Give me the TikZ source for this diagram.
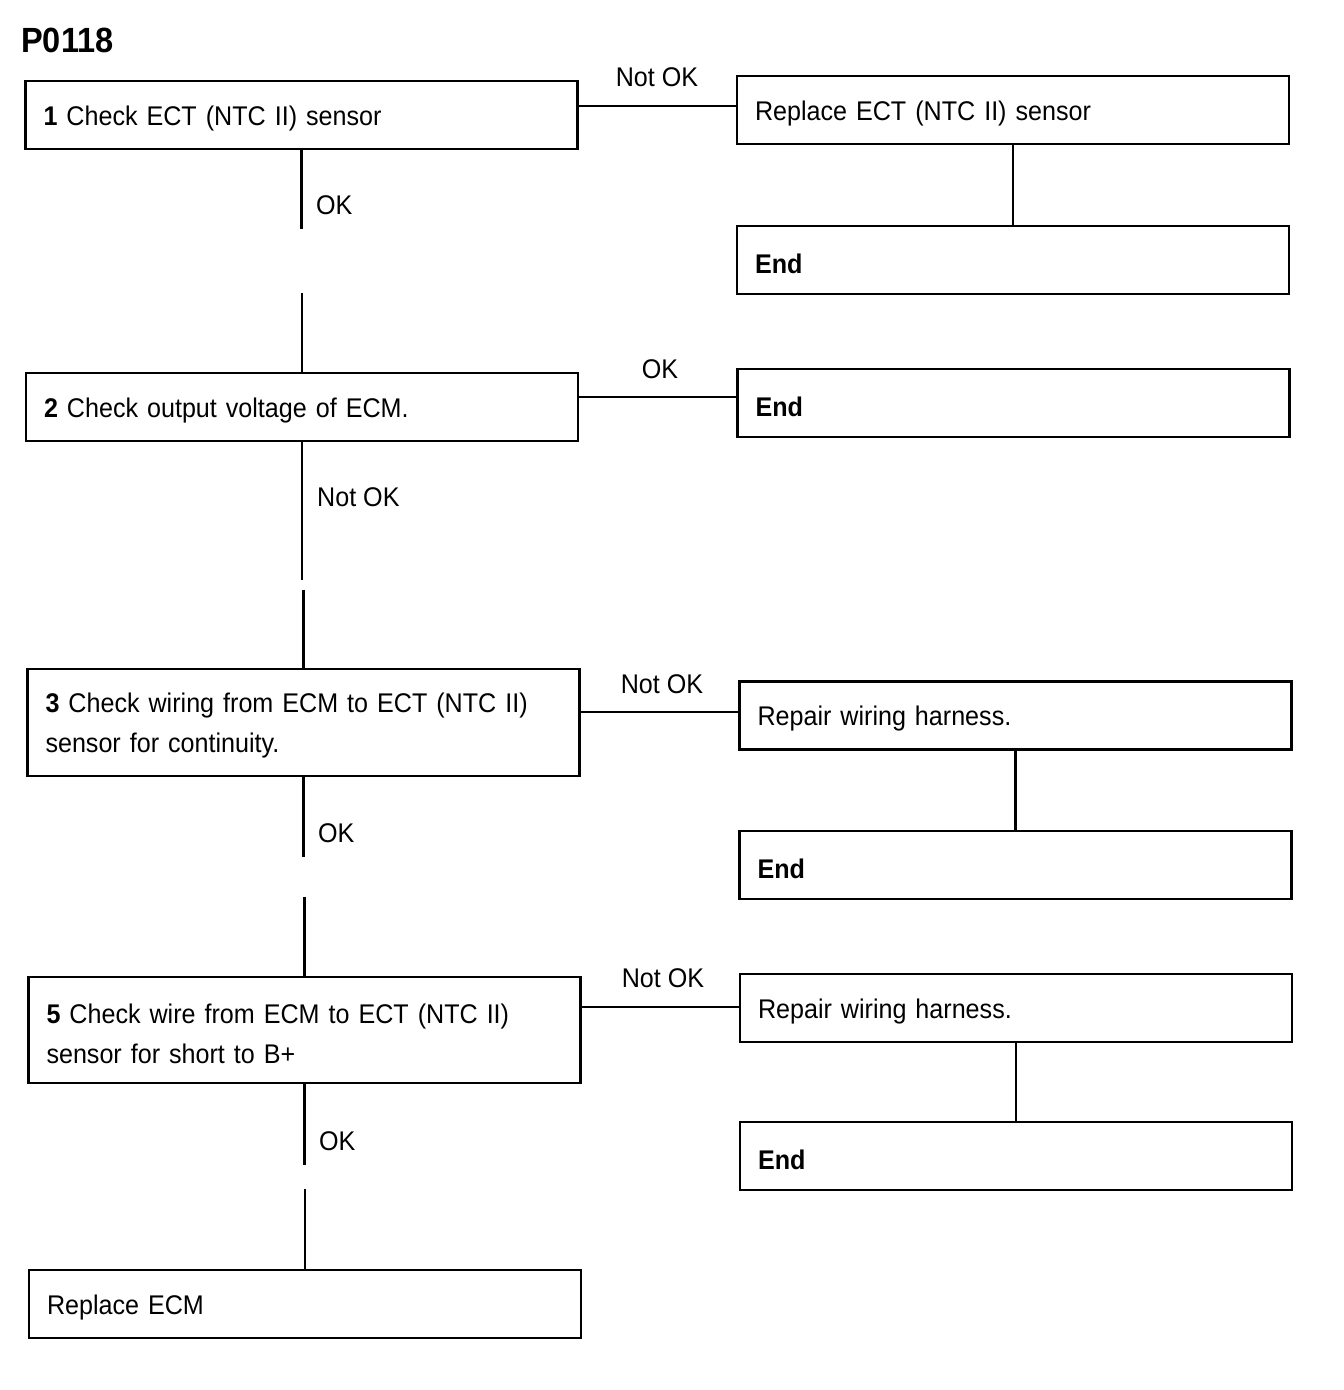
\documentclass[tikz,border=0pt]{standalone}
\usepackage{fontspec}
\setmainfont[FakeStretch=0.93]{Liberation Sans}
\begin{document}
\begin{tikzpicture}[x=1pt,y=-1pt,
  box/.style={draw, line width=2.8pt, minimum width=552pt, minimum height=68pt,
    text width=516pt, align=left, inner xsep=18pt, inner ysep=0pt,
    font=\fontsize{27}{40}\selectfont,
    execute at begin node={\rule{0pt}{26.5pt}}},
  conn/.style={line width=2.5pt},
  lbl/.style={inner sep=0pt, font=\fontsize{27}{32}\selectfont}]
\useasboundingbox (0,0) rectangle (1344,1390);
\node[anchor=west, inner sep=0pt, font=\bfseries\fontsize{35}{35}\selectfont] (title) at (21,40) {P0118};
% boxes
\node[box] (b1) at (301.5,115) {\textbf{1} Check ECT (NTC II) sensor};
\node[box] (r1) at (1013,110) {Replace ECT (NTC II) sensor};
\node[box] (e1) at (1013,260) {\textbf{End}};
\node[box] (b2) at (302,407) {\textbf{2} Check output voltage of ECM.};
\node[box] (e2) at (1013.5,403) {\textbf{End}};
\node[box, minimum height=107pt] (b3) at (303.5,722.5) {\textbf{3} Check wiring from ECM to ECT (NTC II)\\sensor for continuity.};
\node[box] (r3) at (1015.5,715.5) {Repair wiring harness.};
\node[box] (e3) at (1015.5,865) {\textbf{End}};
\node[box, minimum height=106pt] (b5) at (304.5,1030) {\textbf{5} Check wire from ECM to ECT (NTC II)\\sensor for short to B+};
\node[box] (r5) at (1016,1008) {Repair wiring harness.};
\node[box] (e5) at (1016,1156) {\textbf{End}};
\node[box] (b6) at (305,1304) {Replace ECM};
% gap coordinates for vertical connectors
\path (b1.south) ++(0,79) coordinate (g1a);
\path (b2.north) ++(0,-79) coordinate (g1b);
\path (b2.south) ++(0,138) coordinate (g2a);
\path (b3.north) ++(0,-78) coordinate (g2b);
\path (b3.south) ++(0,80) coordinate (g3a);
\path (b5.north) ++(0,-79) coordinate (g3b);
\path (b5.south) ++(0,81) coordinate (g5a);
\path (b6.north) ++(0,-80) coordinate (g5b);
\draw[conn] (b1.south) -- (g1a);
\draw[conn] (g1b) -- (b2.north);
\draw[conn] (b2.south) -- (g2a);
\draw[conn] (g2b) -- (b3.north);
\draw[conn] (b3.south) -- (g3a);
\draw[conn] (g3b) -- (b5.north);
\draw[conn] (b5.south) -- (g5a);
\draw[conn] (g5b) -- (b6.north);
% vertical labels
\node[lbl, anchor=west] (v1) at (316,205) {OK};
\node[lbl, anchor=west] (v2) at (317,497) {Not OK};
\node[lbl, anchor=west] (v3) at (318,833) {OK};
\node[lbl, anchor=west] (v5) at (319,1141) {OK};
% horizontal connectors
\coordinate (h1) at (0,106);
\coordinate (h2) at (0,397);
\coordinate (h3) at (0,712);
\coordinate (h5) at (0,1007);
\draw[conn] (b1.east |- h1) -- (r1.west |- h1);
\draw[conn] (b2.east |- h2) -- (e2.west |- h2);
\draw[conn] (b3.east |- h3) -- (r3.west |- h3);
\draw[conn] (b5.east |- h5) -- (r5.west |- h5);
\node[lbl] (n1) at (657,77) {Not OK};
\node[lbl] (n2) at (660,369) {OK};
\node[lbl] (n3) at (662,684) {Not OK};
\node[lbl] (n5) at (663,978) {Not OK};
% right verticals
\draw[conn] (r1) -- (e1);
\draw[conn] (r3) -- (e3);
\draw[conn] (r5) -- (e5);
\end{tikzpicture}
\end{document}
